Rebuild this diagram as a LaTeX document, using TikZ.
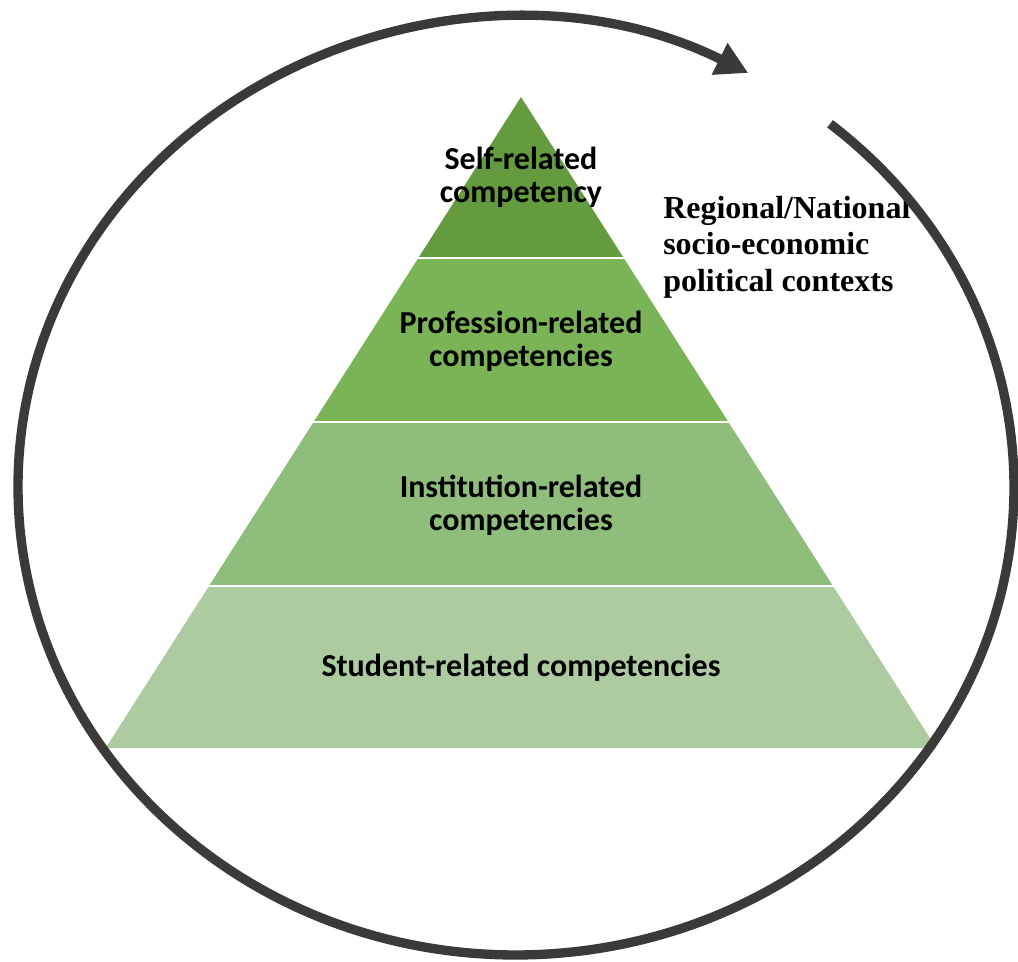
\documentclass[tikz,border=0pt]{standalone}
\usepackage{fontspec}
\setmainfont{Liberation Serif}
\newfontfamily\labelfont{Carlito}
\usetikzlibrary{arrows.meta}

\definecolor{tierA}{HTML}{649B3F}
\definecolor{tierB}{HTML}{7BB357}
\definecolor{tierC}{HTML}{8FBD7B}
\definecolor{tierD}{HTML}{ADCBA0}
\definecolor{ringgray}{HTML}{3B3A38}

\begin{document}
\begin{tikzpicture}[x=0.75pt,y=0.75pt,
  tierlabel/.style={font=\labelfont\bfseries\fontsize{24}{24.75}\selectfont,
    align=center, inner sep=0pt, text=black},
  contextlabel/.style={font=\bfseries\fontsize{24}{27.4}\selectfont,
    align=left, inner sep=0pt, text=black},
  tiergap/.style={white, line width=2pt},
  ring/.style={ringgray, line width=7pt,
    -{Triangle[length=24pt,width=25pt]}}]

\useasboundingbox (0,0) rectangle (1018,962);

% four layers of the pyramid, top to bottom
\fill[tierA] (521,865) -- (623.7,704) -- (418.3,704) -- cycle;
\fill[tierB] (418.3,704) -- (623.7,704) -- (728.4,540) -- (313.6,540) -- cycle;
\fill[tierC] (313.6,540) -- (728.4,540) -- (833,376) -- (209,376) -- cycle;
\fill[tierD] (209,376) -- (833,376) -- (936.3,214) -- (105.7,214) -- cycle;

% thin white separations between the layers
\draw[tiergap] (410,704) -- (632,704);
\draw[tiergap] (305,540) -- (737,540);
\draw[tiergap] (200,376) -- (842,376);

% layer labels
\node[tierlabel] (self) at (521,785) {Self-related\\competency};
\node[tierlabel] (prof) at (521,621) {Profession-related\\competencies};
\node[tierlabel] (inst) at (521,457) {Institution-related\\competencies};
\node[tierlabel] (stud) at (521,294) {Student-related competencies};

% context label beside the pyramid
\node[contextlabel, anchor=north west] (ctx) at (663,766)
  {Regional/National\\socio-economic\\political contexts};

% surrounding cycle arrow
\draw[ring] (516,475) ++(50.9:498 and 468)
  arc[start angle=50.9, end angle=-297.8, x radius=498, y radius=468];

\end{tikzpicture}
\end{document}
